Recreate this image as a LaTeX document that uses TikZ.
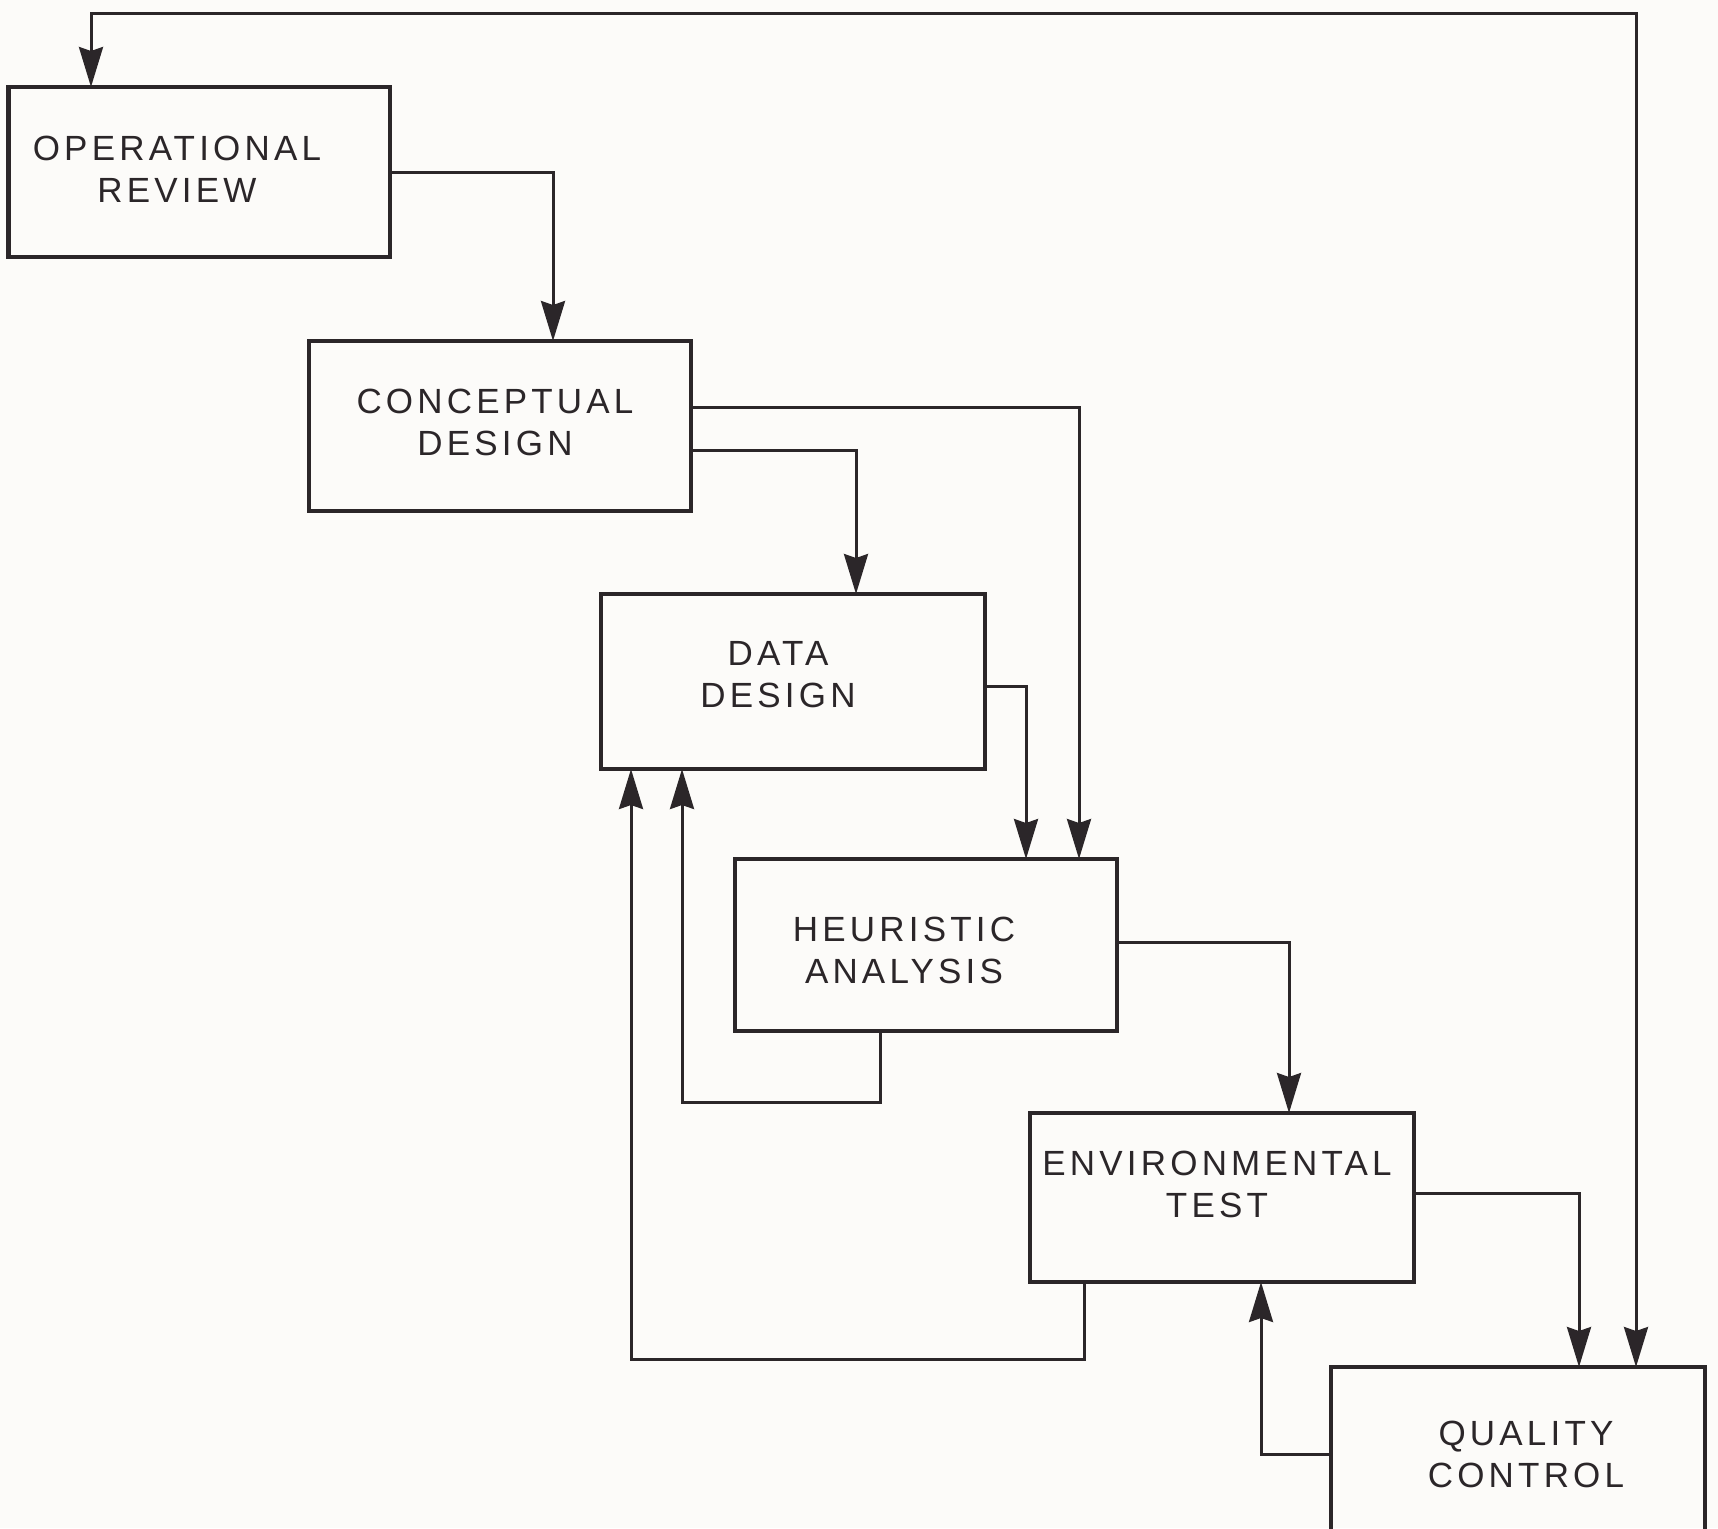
\documentclass[tikz,border=0pt]{standalone}
\usepackage{fontspec}
\setmainfont{Liberation Sans}[LetterSpace=12]
\usetikzlibrary{arrows.meta}
\definecolor{ink}{RGB}{43,38,41}
\definecolor{paper}{RGB}{252,251,249}
\begin{document}
\begin{tikzpicture}[x=0.5pt,y=-0.5pt,
  >={Stealth[length=20pt,width=12pt,inset=2pt]},
  box/.style={draw=ink, line width=2.2pt, rectangle, inner sep=0pt, outer sep=0pt},
  lbl/.style={text=ink, align=center, inner sep=0pt, font=\fontsize{17.5}{21}\selectfont},
  conn/.style={draw=ink, line width=1.5pt, ->},
  dconn/.style={draw=ink, line width=1.5pt, <->}]
\clip (0,0) rectangle (1718,1528);
\fill[paper] (0,0) rectangle (1718,1528);
% boxes
\node[box, minimum width=190.75pt, minimum height=85pt]   (op)  at (199.25,172) {};
\node[box, minimum width=191pt,    minimum height=85pt]   (cp)  at (500,426) {};
\node[box, minimum width=192pt,    minimum height=87.5pt] (dd)  at (793,681.5) {};
\node[box, minimum width=191pt,    minimum height=86pt]   (ha)  at (926,945) {};
\node[box, minimum width=192pt,    minimum height=84.5pt] (env) at (1222,1197.5) {};
\node[box, minimum width=187pt,    minimum height=87.5pt] (qc)  at (1518,1454.5) {};
% labels
\node[lbl] (opt)  at (177,169)   {OPERATIONAL\\REVIEW};
\node[lbl] (cpt)  at (495,422)   {CONCEPTUAL\\DESIGN};
\node[lbl] (ddt)  at (778,675)   {DATA\\DESIGN};
\node[lbl] (hat)  at (904,950)   {HEURISTIC\\ANALYSIS};
\node[lbl] (envt) at (1217,1184) {ENVIRONMENTAL\\TEST};
\node[lbl] (qct)  at (1526,1454) {QUALITY\\CONTROL};
% helper columns and rows
\coordinate (c91) at (91,0);
\coordinate (c553) at (553,0);
\coordinate (c1079) at (1079,0);
\coordinate (c856) at (856,0);
\coordinate (c1026) at (1026,0);
\coordinate (c1289) at (1289,0);
\coordinate (c880) at (880,0);
\coordinate (c682) at (682,0);
\coordinate (c1084) at (1084,0);
\coordinate (c631) at (631,0);
\coordinate (c1579) at (1579,0);
\coordinate (c1261) at (1261,0);
\coordinate (c1636) at (1636,0);
\coordinate (r13) at (0,13);
\coordinate (r407) at (0,407);
\coordinate (r450) at (0,450);
\coordinate (r686) at (0,686);
\coordinate (r942) at (0,942);
\coordinate (r1102) at (0,1102);
\coordinate (r1359) at (0,1359);
\coordinate (r1193) at (0,1193);
\coordinate (r1454) at (0,1454);
% connectors
\draw[conn] (op.east) -| (cp.north -| c553);
\draw[conn] (cp.east |- r407) -| (ha.north -| c1079);
\draw[conn] (cp.east |- r450) -| (dd.north -| c856);
\draw[conn] (dd.east |- r686) -| (ha.north -| c1026);
\draw[conn] (ha.east |- r942) -| (env.north -| c1289);
\draw[conn] (ha.south -| c880) |- (c682 |- r1102) -- (dd.south -| c682);
\draw[conn] (env.south -| c1084) |- (c631 |- r1359) -- (dd.south -| c631);
\draw[conn] (env.east |- r1193) -| (qc.north -| c1579);
\draw[conn] (qc.west |- r1454) -| (env.south -| c1261);
\draw[dconn] (qc.north -| c1636) |- (c91 |- r13) -- (op.north -| c91);
\end{tikzpicture}
\end{document}
